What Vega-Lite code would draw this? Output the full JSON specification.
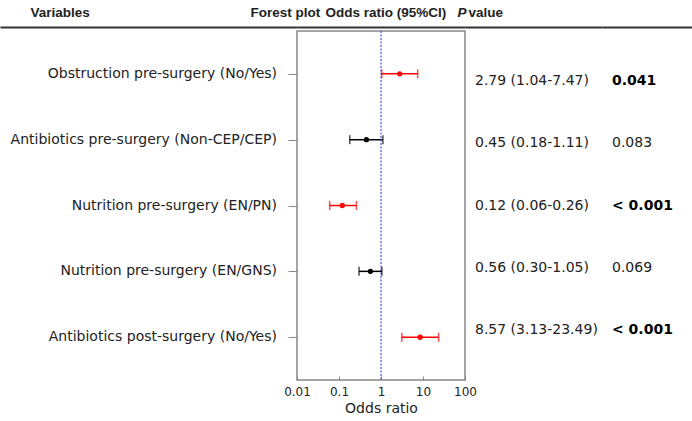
{
  "$schema": "https://vega.github.io/schema/vega-lite/v6.json",
  "padding": {"left": 0, "top": 4, "right": 0, "bottom": 0},
  "background": "white",
  "config": {"view": {"stroke": null}, "font": "DejaVu Sans", "axis": {"grid": false}},
  "datasets": {
    "rows": [
      {"var": "Obstruction pre-surgery (No/Yes)", "or": 2.79, "lo": 1.04, "hi": 7.47, "ci": "2.79 (1.04-7.47)", "p": "0.041", "sig": "yes"},
      {"var": "Antibiotics pre-surgery (Non-CEP/CEP)", "or": 0.45, "lo": 0.18, "hi": 1.11, "ci": "0.45 (0.18-1.11)", "p": "0.083", "sig": "no"},
      {"var": "Nutrition pre-surgery (EN/PN)", "or": 0.12, "lo": 0.06, "hi": 0.26, "ci": "0.12 (0.06-0.26)", "p": "< 0.001", "sig": "yes"},
      {"var": "Nutrition pre-surgery (EN/GNS)", "or": 0.56, "lo": 0.30, "hi": 1.05, "ci": "0.56 (0.30-1.05)", "p": "0.069", "sig": "no"},
      {"var": "Antibiotics post-surgery (No/Yes)", "or": 8.57, "lo": 3.13, "hi": 23.49, "ci": "8.57 (3.13-23.49)", "p": "< 0.001", "sig": "yes"}
    ]
  },
  "data": {"name": "rows"},
  "spacing": 0,
  "bounds": "flush",
  "resolve": {"scale": {"x": "independent", "y": "independent"}},
  "hconcat": [
    {
      "width": 297,
      "height": 349,
      "mark": {"type": "text", "align": "right", "baseline": "middle", "dx": -20, "fontSize": 14, "color": "#222"},
      "encoding": {
        "y": {"field": "var", "type": "nominal", "sort": null,
              "scale": {"type": "point", "padding": 0.65, "domain": ["Obstruction pre-surgery (No/Yes)", "Antibiotics pre-surgery (Non-CEP/CEP)", "Nutrition pre-surgery (EN/PN)", "Nutrition pre-surgery (EN/GNS)", "Antibiotics post-surgery (No/Yes)"]},
              "axis": null},
        "x": {"datum": 1, "type": "quantitative", "scale": {"domain": [0, 1], "nice": false},
              "axis": {"orient": "top", "offset": 4, "domain": true, "domainColor": "#333", "domainWidth": 2, "ticks": false, "labels": false, "grid": false,
                       "title": "Variables", "titleFont": "Liberation Sans", "titleFontSize": 13.5, "titleFontWeight": "bold", "titleColor": "#222",
                       "titleAlign": "left", "titleBaseline": "alphabetic", "titleX": 30, "titleY": -11, "titleAngle": 0}},
        "text": {"field": "var"}
      }
    },
    {
      "width": 168,
      "height": 349,
      "view": {"stroke": "#888", "strokeWidth": 1.5},
      "resolve": {"axis": {"x": "independent"}},
      "encoding": {
        "y": {"field": "var", "type": "nominal", "sort": null,
              "scale": {"type": "point", "padding": 0.65, "domain": ["Obstruction pre-surgery (No/Yes)", "Antibiotics pre-surgery (Non-CEP/CEP)", "Nutrition pre-surgery (EN/PN)", "Nutrition pre-surgery (EN/GNS)", "Antibiotics post-surgery (No/Yes)"]},
              "axis": {"labels": false, "domain": false, "ticks": true, "tickSize": 9, "tickColor": "#888", "tickWidth": 1, "title": null, "grid": false}},
        "color": {"field": "sig", "type": "nominal", "scale": {"domain": ["yes", "no"], "range": ["#ff0000", "#000000"]}, "legend": null}
      },
      "layer": [
        {
          "mark": {"type": "rule", "strokeWidth": 1.5},
          "encoding": {
            "x": {"field": "lo", "type": "quantitative", "scale": {"type": "log", "domain": [0.01, 100]},
                  "axis": {"orient": "bottom", "values": [0.01, 0.1, 1, 10, 100], "format": "~g", "domain": false, "tickSize": -4, "tickColor": "#888", "tickWidth": 1,
                           "labelFontSize": 12, "labelColor": "#222", "labelPadding": 10, "labelFlush": false,
                           "title": "Odds ratio", "titleFontSize": 14, "titleFontWeight": "normal", "titleColor": "#222", "titlePadding": 4}},
            "x2": {"field": "hi"}
          }
        },
        {
          "data": {"values": [{}]},
          "mark": {"type": "rule", "color": "#4f4fe6", "strokeWidth": 1.2, "strokeDash": [2, 1.5]},
          "encoding": {
            "y": null,
            "color": null,
            "x": {"datum": 1, "type": "quantitative",
                  "axis": {"orient": "top", "offset": 4, "domain": true, "domainColor": "#333", "domainWidth": 2, "ticks": false, "labels": false, "grid": false,
                           "title": "Forest plot", "titleFont": "Liberation Sans", "titleFontSize": 13.5, "titleFontWeight": "bold", "titleColor": "#222",
                           "titleAlign": "left", "titleBaseline": "alphabetic", "titleX": -47, "titleY": -11, "titleAngle": 0}}
          }
        },
        {
          "mark": {"type": "tick", "orient": "vertical", "size": 9, "thickness": 1.5},
          "encoding": {"x": {"field": "lo", "type": "quantitative", "axis": null}}
        },
        {
          "mark": {"type": "tick", "orient": "vertical", "size": 9, "thickness": 1.5},
          "encoding": {"x": {"field": "hi", "type": "quantitative", "axis": null}}
        },
        {
          "mark": {"type": "point", "shape": "circle", "filled": true, "size": 28, "opacity": 1},
          "encoding": {"x": {"field": "or", "type": "quantitative", "axis": null}}
        }
      ]
    },
    {
      "width": 137,
      "height": 349,
      "mark": {"type": "text", "align": "left", "baseline": "middle", "dx": 10, "fontSize": 14, "color": "#222"},
      "encoding": {
        "y": {"field": "var", "type": "nominal", "sort": null,
              "scale": {"type": "point", "padding": 0.8, "domain": ["Obstruction pre-surgery (No/Yes)", "Antibiotics pre-surgery (Non-CEP/CEP)", "Nutrition pre-surgery (EN/PN)", "Nutrition pre-surgery (EN/GNS)", "Antibiotics post-surgery (No/Yes)"]},
              "axis": null},
        "x": {"datum": 0, "type": "quantitative", "scale": {"domain": [0, 1], "nice": false},
              "axis": {"orient": "top", "offset": 4, "domain": true, "domainColor": "#333", "domainWidth": 2, "ticks": false, "labels": false, "grid": false,
                       "title": "Odds ratio (95%CI)", "titleFont": "Liberation Sans", "titleFontSize": 13.5, "titleFontWeight": "bold", "titleColor": "#222",
                       "titleAlign": "left", "titleBaseline": "alphabetic", "titleX": -140, "titleY": -11, "titleAngle": 0}},
        "text": {"field": "ci"}
      }
    },
    {
      "width": 90,
      "height": 349,
      "encoding": {
        "y": {"field": "var", "type": "nominal", "sort": null,
              "scale": {"type": "point", "padding": 0.8, "domain": ["Obstruction pre-surgery (No/Yes)", "Antibiotics pre-surgery (Non-CEP/CEP)", "Nutrition pre-surgery (EN/PN)", "Nutrition pre-surgery (EN/GNS)", "Antibiotics post-surgery (No/Yes)"]},
              "axis": {"title": "P", "labels": false, "ticks": false, "domain": false, "grid": false, "titleAngle": 0, "titleX": -145, "titleY": -15,
                       "titleAlign": "left", "titleBaseline": "alphabetic", "titleFont": "Liberation Sans", "titleFontSize": 13.5, "titleFontWeight": "bold",
                       "titleFontStyle": "italic", "titleColor": "#222"}},
        "x": {"datum": 0, "type": "quantitative", "scale": {"domain": [0, 1], "nice": false},
              "axis": {"orient": "top", "offset": 4, "domain": true, "domainColor": "#333", "domainWidth": 2, "ticks": false, "labels": false, "grid": false,
                       "title": "value", "titleFont": "Liberation Sans", "titleFontSize": 13.5, "titleFontWeight": "bold", "titleColor": "#222",
                       "titleAlign": "left", "titleBaseline": "alphabetic", "titleX": -134, "titleY": -11, "titleAngle": 0}},
        "text": {"field": "p"}
      },
      "layer": [
        {
          "transform": [{"filter": "datum.sig === 'no'"}],
          "mark": {"type": "text", "align": "left", "baseline": "middle", "dx": 10, "fontSize": 14, "color": "#222"}
        },
        {
          "transform": [{"filter": "datum.sig === 'yes'"}],
          "mark": {"type": "text", "align": "left", "baseline": "middle", "dx": 10, "fontSize": 14, "fontWeight": "bold", "color": "#000"}
        }
      ]
    }
  ]
}
